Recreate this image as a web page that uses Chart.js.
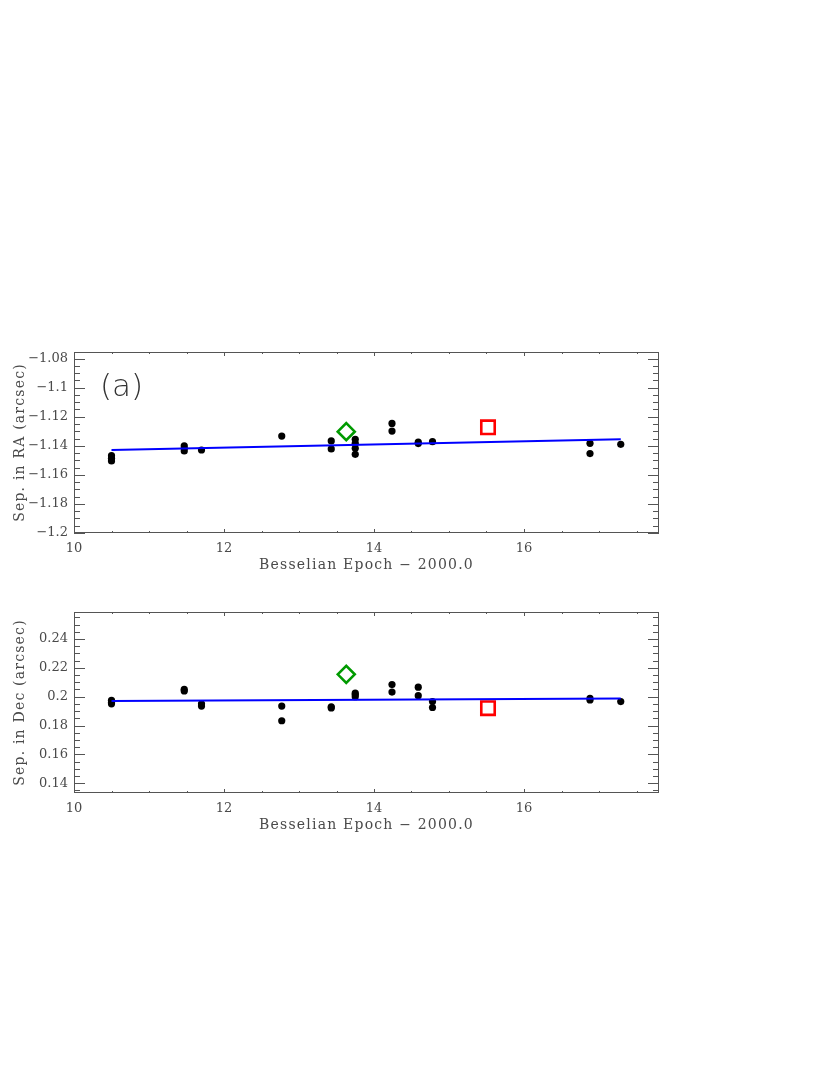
<!DOCTYPE html>
<html>
<head>
    <title>Separation vs Besselian Epoch</title>
    <script src="https://cdn.jsdelivr.net/npm/chart.js"></script>
    <style>
        body {margin: 0; background: #fff; width: 830px; height: 1075px; position: relative;}
        .panel {position: absolute; left: 0; width: 700px; height: 260px;}
        #raPanel {top: 330px;}
        #decPanel {top: 590px;}
    </style>
</head>
<body>
    <div class="panel" id="raPanel"><canvas id="raChart" width="700" height="260"></canvas></div>
    <div class="panel" id="decPanel"><canvas id="decChart" width="700" height="260"></canvas></div>
    <script>
        // epochs (Besselian epoch - 2000.0) and separations
        var raEpoch = [10.50, 10.50, 10.50, 11.47, 11.47, 11.47, 11.70, 12.77, 13.43, 13.43,
                       13.75, 13.75, 13.75, 13.75, 14.24, 14.24, 14.59, 14.59, 14.78, 16.88, 16.88, 17.29];
        var raSep = [-1.1468, -1.1486, -1.1504, -1.1400, -1.1417, -1.1436, -1.1429, -1.1333, -1.1367, -1.1422,
                     -1.1356, -1.1383, -1.1417, -1.1459, -1.1246, -1.1299, -1.1375, -1.1385, -1.1372, -1.1383, -1.1454, -1.1390];
        var raDiamond = [13.63, -1.1303];
        var raSquare = [15.52, -1.1273];
        var raFitX = [10.50, 17.29];
        var raFitY = [-1.1429, -1.1356];

        var decEpoch = [10.50, 10.50, 10.50, 11.47, 11.47, 11.70, 11.70, 12.77, 12.77, 13.43, 13.43,
                        13.75, 13.75, 13.75, 14.24, 14.24, 14.59, 14.59, 14.78, 14.78, 16.88, 16.88, 17.29];
        var decSep = [0.1975, 0.1960, 0.1950, 0.2050, 0.2040, 0.1950, 0.1935, 0.1935, 0.1833, 0.1930, 0.1922,
                      0.2025, 0.2015, 0.2000, 0.2084, 0.2032, 0.2066, 0.2007, 0.1966, 0.1925, 0.1988, 0.1977, 0.1966];
        var decDiamond = [13.63, 0.2155];
        var decSquare = [15.52, 0.1920];
        var decFitX = [10.50, 17.29];
        var decFitY = [0.1970, 0.1988];

        var xTicks = [10, 12, 14, 16];
        var raTicks = [-1.2, -1.18, -1.16, -1.14, -1.12, -1.1, -1.08];
        var decTicks = [0.14, 0.16, 0.18, 0.2, 0.22, 0.24];

        var inkColor = '#4a4a4a';
        var tickFont = {family: 'DejaVu Serif', size: 13};
        var titleFont = {family: 'DejaVu Serif', size: 14};

        function pts(xs, ys) {
            return xs.map(function(x, i) { return {x: x, y: ys[i]}; });
        }

        function fmt(v) {
            var s = String(Math.abs(+v.toFixed(3)));
            return v < 0 ? '\u2212' + s : s;
        }

        // IDL style frame with inward ticks on all four sides
        var framePlugin = {
            id: 'frame',
            beforeDraw: function(chart) {
                // wide spacing for the axis titles (tick labels are drawn later, z=1)
                chart.ctx.letterSpacing = '1.2px';
            },
            beforeDatasetsDraw: function(chart) {
                chart.ctx.letterSpacing = '0px';
            },
            afterDatasetsDraw: function(chart, args, opts) {
                var ctx = chart.ctx, a = chart.chartArea;
                var xs = chart.scales.x, ys = chart.scales.y;
                ctx.save();
                ctx.strokeStyle = '#555';
                ctx.lineWidth = 1;
                ctx.strokeRect(a.left + 0.5, a.top + 0.5, a.right - a.left - 1, a.bottom - a.top - 1);
                ctx.beginPath();
                for (var v = xs.min; v <= xs.max + 1e-9; v += 0.5) {
                    var px = Math.round(xs.getPixelForValue(v)) + 0.5;
                    var len = Math.abs(v / 2 - Math.round(v / 2)) < 1e-6 ? 4 : 2;
                    ctx.moveTo(px, a.bottom); ctx.lineTo(px, a.bottom - len);
                    ctx.moveTo(px, a.top); ctx.lineTo(px, a.top + len);
                }
                var step = opts.minor, major = opts.major;
                var start = Math.ceil(ys.min / step - 1e-6) * step;
                for (var w = start; w <= ys.max + 1e-9; w += step) {
                    var py = Math.round(ys.getPixelForValue(w)) + 0.5;
                    var isMaj = Math.abs(w / major - Math.round(w / major)) < 1e-6;
                    var l = isMaj ? 11 : 6;
                    ctx.moveTo(a.left, py); ctx.lineTo(a.left + l, py);
                    ctx.moveTo(a.right, py); ctx.lineTo(a.right - l, py);
                }
                ctx.stroke();
                if (opts.tag) {
                    ctx.fillStyle = '#333';
                    ctx.font = '300 31px "DejaVu Sans"';
                    ctx.textBaseline = 'middle';
                    ctx.fillText(opts.tag, a.left + 26, a.top + 36);
                }
                ctx.restore();
            }
        };

        function makeChart(id, xsArr, ysArr, dia, sq, fitX, fitY, yMin, yMax, yTickVals, yTitle, tag) {
            var ctx = document.getElementById(id).getContext('2d');
            return new Chart(ctx, {
                type: 'scatter',
                data: {
                    datasets: [
                        {
                            type: 'line',
                            data: pts(fitX, fitY),
                            borderColor: '#0000ff',
                            borderWidth: 2,
                            pointRadius: 0,
                            fill: false
                        },
                        {
                            data: pts(xsArr, ysArr),
                            backgroundColor: '#000',
                            borderColor: '#000',
                            pointRadius: 3.6,
                            borderWidth: 0
                        },
                        {
                            data: [{x: dia[0], y: dia[1]}],
                            pointStyle: 'rectRot',
                            pointRadius: 8.5,
                            borderColor: '#009a00',
                            backgroundColor: 'rgba(0,0,0,0)',
                            borderWidth: 2.6
                        },
                        {
                            data: [{x: sq[0], y: sq[1]}],
                            pointStyle: 'rect',
                            pointRadius: 9.5,
                            borderColor: '#ff0000',
                            backgroundColor: 'rgba(0,0,0,0)',
                            borderWidth: 2.6
                        }
                    ]
                },
                options: {
                    responsive: false,
                    animation: false,
                    events: [],
                    layout: {padding: {top: 22, right: 41, left: 0, bottom: 0}},
                    plugins: {
                        legend: {display: false},
                        tooltip: {enabled: false},
                        frame: {minor: 0.005, major: 0.02, tag: tag}
                    },
                    scales: {
                        x: {
                            type: 'linear',
                            min: 10,
                            max: 17.8,
                            grid: {display: false, drawTicks: false},
                            border: {display: false},
                            afterBuildTicks: function(s) { s.ticks = xTicks.map(function(v) { return {value: v}; }); },
                            afterFit: function(s) { s.height = 57; },
                            ticks: {color: inkColor, font: tickFont, padding: 8, maxRotation: 0, z: 1,
                                    callback: function(v) { return String(v); }},
                            title: {display: true, text: 'Besselian Epoch \u2212 2000.0', color: inkColor,
                                    font: titleFont, padding: {top: 0, bottom: 16}}
                        },
                        y: {
                            type: 'linear',
                            min: yMin,
                            max: yMax,
                            grid: {display: false, drawTicks: false},
                            border: {display: false},
                            afterBuildTicks: function(s) { s.ticks = yTickVals.map(function(v) { return {value: v}; }); },
                            afterFit: function(s) { s.width = 74; },
                            ticks: {color: inkColor, font: tickFont, padding: 6, z: 1,
                                    callback: function(v) { return fmt(v); }},
                            title: {display: true, text: yTitle, color: inkColor,
                                    font: titleFont, padding: {top: 12, bottom: 0}}
                        }
                    }
                },
                plugins: [framePlugin]
            });
        }

        makeChart('raChart', raEpoch, raSep, raDiamond, raSquare, raFitX, raFitY,
                  -1.2, -1.0755, raTicks, 'Sep. in RA (arcsec)', '(a)');
        makeChart('decChart', decEpoch, decSep, decDiamond, decSquare, decFitX, decFitY,
                  0.1332, 0.2587, decTicks, 'Sep. in Dec (arcsec)', null);
    </script>
</body>
</html>
